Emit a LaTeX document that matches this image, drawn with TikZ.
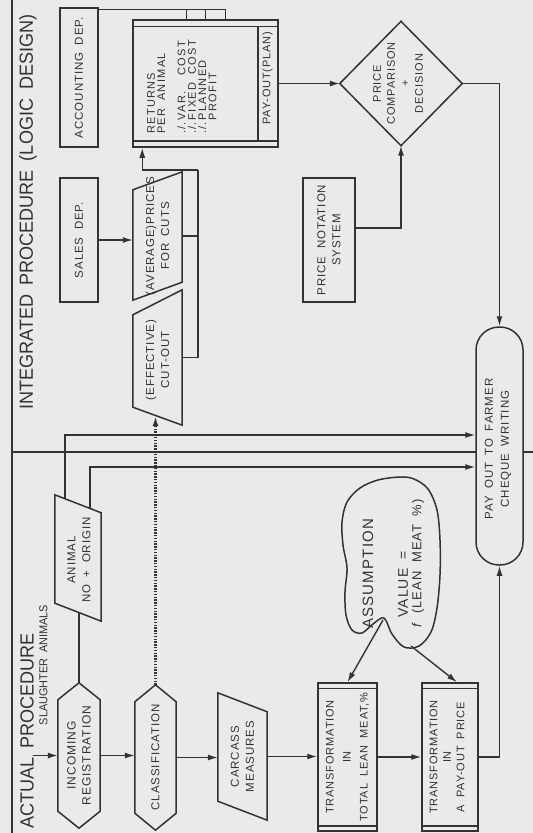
\documentclass[tikz,border=0pt]{standalone}
\usepackage{fontspec}
\setmainfont[LetterSpace=8,WordSpace=1.8]{Liberation Sans}
\newfontfamily\tf[FakeStretch=0.95,WordSpace=1.8]{Liberation Sans}
\usetikzlibrary{arrows.meta}
\definecolor{ink}{HTML}{333333}
\definecolor{paper}{HTML}{EAEAE8}
\newcommand\hexout[1]{\draw[shp] ([yshift=-17pt]#1.north west) -- (#1.north) -- ([yshift=-17pt]#1.north east) -- ([yshift=17pt]#1.south east) -- (#1.south) -- ([yshift=17pt]#1.south west) -- cycle;}
\newcommand\parout[2]{\draw[shp] (#1.north west) -- ([yshift=-#2]#1.north east) -- (#1.south east) -- ([yshift=#2]#1.south west) -- cycle;}
\begin{document}
\begin{tikzpicture}[x=1pt,y=-1pt,
  shp/.style={draw=ink, line width=1.5pt},
  ln/.style={draw=ink, line width=1.4pt},
  arr/.style={ln, -{Latex[length=10pt,width=6pt]}},
  bx/.style={shp, fill=paper, inner sep=0pt},
  ghost/.style={draw=none, inner sep=0pt},
  txt/.style={text=ink, align=center, inner sep=0pt, rotate=90, font=\fontsize{11.5}{15}\selectfont},
  ttl/.style={text=ink, inner sep=0pt, rotate=90, font=\tf\fontsize{19}{22}\selectfont},
]
\fill[paper] (0,0) rectangle (533,833);
\useasboundingbox (0,0) rectangle (533,833);

% frame lines
\coordinate (fl-top) at (12,0);
\coordinate (fl-bot) at (12,833);
\draw[ln, line width=1.7pt] (fl-top) -- (fl-bot);
\coordinate (sep-l) at (12,452);
\coordinate (sep-r) at (533,452);
\draw[ln, line width=1.7pt] (sep-l) -- (sep-r);

% titles
\node[ttl] (t-int) at (28,212) {INTEGRATED PROCEDURE (LOGIC DESIGN)};
\node[ttl] (t-act) at (27,731) {ACTUAL PROCEDURE};
\node[ttl, font=\tf\fontsize{11.5}{14}\selectfont] (t-sla) at (43.5,665) {SLAUGHTER ANIMALS};

% actual procedure chain
\node[ghost, minimum width=42pt, minimum height=145pt] (inc) at (79,755.5) {};
\hexout{inc}
\node[txt, font=\fontsize{12}{15}\selectfont] (inc-t) at (inc) {INCOMING\\REGISTRATION};
\coordinate (sa) at (33,755.5);
\draw[arr] (sa) -- (inc.west);

\node[ghost, minimum width=41pt, minimum height=145pt] (cls) at (155.5,757.5) {};
\hexout{cls}
\node[txt] (cls-t) at (cls) {CLASSIFICATION};

\node[ghost, minimum width=46pt, minimum height=126pt] (anim) at (78,558) {};
\parout{anim}{18pt}
\node[txt] (anim-t) at (79,560) {ANIMAL\\NO + ORIGIN};

\node[ghost, minimum width=49pt, minimum height=127pt] (car) at (242.5,756.5) {};
\parout{car}{19pt}
\node[txt] (car-t) at (car) {CARCASS\\MEASURES};

\node[bx, minimum width=59pt, minimum height=148pt] (tr1) at (347.5,757) {};
\draw[shp] ([yshift=-6pt]tr1.north west) -- ([yshift=-6pt]tr1.north east);
\draw[shp] ([yshift=6pt]tr1.south west) -- ([yshift=6pt]tr1.south east);
\node[txt, font=\fontsize{11}{17}\selectfont] (tr1-t) at (tr1) {TRANSFORMATION\\IN\\TOTAL LEAN MEAT,\%};

\node[bx, minimum width=56pt, minimum height=148pt] (tr2) at (450,757) {};
\draw[shp] ([yshift=-6pt]tr2.north west) -- ([yshift=-6pt]tr2.north east);
\draw[shp] ([yshift=6pt]tr2.south west) -- ([yshift=6pt]tr2.south east);
\node[txt, font=\fontsize{11}{13.5}\selectfont] (tr2-t) at (447,757) {TRANSFORMATION\\IN\\A PAY-OUT PRICE};

\node[bx, rounded corners=23pt, minimum width=47pt, minimum height=238pt] (pay) at (499.5,446) {};
\node[txt, font=\fontsize{11.5}{16}\selectfont] (pay-t) at (498,449) {PAY OUT TO FARMER\\CHEQUE WRITING};

% integrated procedure
\node[bx, minimum width=38pt, minimum height=139pt] (acc) at (79,77.5) {};
\node[txt] (acc-t) at (acc) {ACCOUNTING DEP.};
\node[bx, minimum width=38pt, minimum height=124pt] (sal) at (79,240) {};
\node[txt] (sal-t) at (sal) {SALES DEP.};

\node[ghost, minimum width=49pt, minimum height=128pt] (avg) at (157.5,236) {};
\draw[shp] ([yshift=-18pt]avg.north west) -- (avg.north east) -- ([yshift=18pt]avg.south east) -- (avg.south west) -- cycle;
\node[txt] (avg-t) at (avg) {(AVERAGE)PRICES\\FOR CUTS};
\node[ghost, minimum width=49pt, minimum height=135pt] (cut) at (157.5,357.5) {};
\draw[shp] ([yshift=-25pt]cut.north west) -- (cut.north east) -- (cut.south east) -- ([yshift=18pt]cut.south west) -- cycle;
\node[txt] (cut-t) at (157.5,360) {(EFFECTIVE)\\CUT-OUT};

\node[bx, minimum width=145pt, minimum height=127pt] (ret) at (205.5,83.5) {};
\draw[shp] ([yshift=-7pt]ret.north west) -- ([yshift=-7pt]ret.north east);
\draw[shp] ([yshift=7pt]ret.south west) -- ([yshift=7pt]ret.south east);
\draw[shp] ([xshift=-21pt,yshift=-7pt]ret.north east) -- ([xshift=-21pt,yshift=7pt]ret.south east);
\node[txt, anchor=north west, align=left, font=\fontsize{11}{10.3}\selectfont\addfontfeature{LetterSpace=12}] (ret-t) at (147,134)
  {RETURNS\\PER ANIMAL\\[10pt]./.\,VAR.\ \ COST\\./.\,FIXED\ COST\\./.\,PLANNED\\\phantom{./.\,}PROFIT};
\node[txt, font=\fontsize{11}{13}\selectfont] (ret-p) at (267.5,78) {PAY-OUT(PLAN)};

\node[ghost, minimum width=122pt, minimum height=124pt] (dec) at (401,83.5) {};
\draw[shp] (dec.west) -- (dec.north) -- (dec.east) -- (dec.south) -- cycle;
\node[txt, font=\fontsize{11}{14}\selectfont] (dec-t) at (398,83.5) {PRICE\\COMPARISON\\+\\DECISION};

\node[bx, minimum width=52pt, minimum height=124pt] (pns) at (329,240) {};
\node[txt] (pns-t) at (pns) {PRICE NOTATION\\SYSTEM};

% cloud
\draw[shp] plot[smooth cycle, tension=0.55] coordinates {
  (400,477) (378,480) (360,488) (347,502) (342,522) (343,545) (347,568)
  (345,592) (346,615) (352,630) (362,633) (373,624) (384,618) (392,634) (404,647)
  (419,646) (431,632) (437,608) (440,575) (440,540) (437,510) (428,489) (414,479)};
\node[ghost] (cld) at (391,563) {};
\node[txt, anchor=west, font=\fontsize{15}{17}\selectfont] (cld-t1) at (368,629) {ASSUMPTION};
\node[txt, anchor=west, font=\fontsize{14}{16}\selectfont] (cld-t2) at (403,618) {VALUE =};
\node[txt, anchor=west, font=\fontsize{13}{15}\selectfont] (cld-t3) at (418,628) {\textit{f} (LEAN MEAT \%)};

% connectors
\draw[arr] (inc.east) -- (inc.east -| cls.west);
\draw[arr] (cls.east) -- (cls.east -| car.west);
\draw[arr] (car.east) -- (car.east -| tr1.west);
\draw[arr] (tr1.east) -- (tr2.west);
\draw[arr] (tr2.east) -| (pay.south);
\coordinate (anim-b) at (79,612);
\draw[ln] (inc.north) -- (anim-b);
\coordinate (anim-p) at (65,499);
\coordinate (anim-q) at (90,509);
\draw[arr] (anim-p) |- ([yshift=11pt]pay.west);
\draw[arr] (anim-q) |- ([yshift=-21pt]pay.west);
\coordinate (cut-in) at (155.5,416);
\draw[arr, dash pattern=on 1.4pt off 1.4pt, line width=2.1pt] (cls.north) -- (cut-in);

\coordinate (cl-a) at (383,620);
\draw[arr] (cl-a) -- (tr1.north);
\coordinate (cl-b) at (411,646);
\draw[arr] (cl-b) -- ([xshift=7pt]tr2.north);

\draw[arr] (sal.east) -- (sal.east -| avg.west);
\coordinate (bus) at (198,170);
\draw[ln] (cut.east) -| (bus);
\draw[ln] (avg.east) -- (avg.east -| bus);
\draw[arr] (bus) -| ([xshift=10pt]ret.south west);

\coordinate (bar) at ([yshift=-2pt]acc.north east);
\coordinate (r1) at ([xshift=54pt]ret.north west);
\coordinate (r2) at ([xshift=73pt]ret.north west);
\coordinate (r3) at ([xshift=93pt]ret.north west);
\draw[ln] (bar) -| (r3);
\draw[ln] (r1) -- (r1 |- bar);
\draw[ln] (r2) -- (r2 |- bar);

\draw[arr] (ret.east) -- (dec.west);
\draw[arr] ([yshift=12pt]pns.east) -| (dec.south);
\draw[arr] (dec.east) -| (pay.north);
\end{tikzpicture}
\end{document}
